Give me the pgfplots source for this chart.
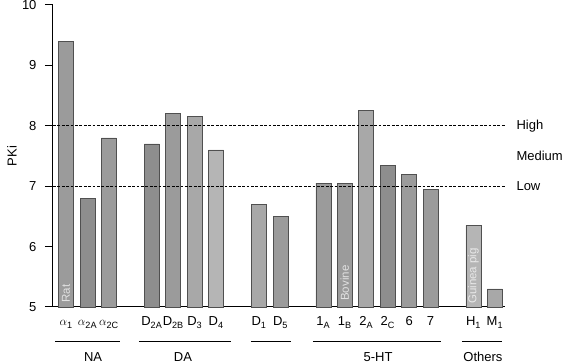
\documentclass[border=0pt]{standalone}
\usepackage{fontspec}
\setmainfont{Liberation Sans}
\usepackage{pgfplots}
\pgfplotsset{compat=1.18}
\definecolor{barA}{HTML}{8E8E8E}
\definecolor{barB}{HTML}{9B9B9B}
\definecolor{barC}{HTML}{A8A8A8}
\definecolor{barD}{HTML}{B5B5B5}
\definecolor{edge}{HTML}{505050}
\begin{document}
\begin{tikzpicture}
\useasboundingbox (-53pt,-56pt) rectangle (513pt,307pt);
\begin{axis}[
  at={(0,0)}, anchor=south west,
  scale only axis, width=452pt, height=302pt,
  xmin=-0.61, xmax=20.47, ymin=5, ymax=10,
  axis x line=bottom, axis y line=left,
  axis line style={-, line width=1pt},
  ytick={5,6,7,8,9,10},
  tick align=outside, major tick length=8pt,
  every tick/.style={line width=1pt, black},
  xtick={0,1,2,4,5,6,7,9,10,12,13,14,15,16,17,19,20},
  xticklabels={$\alpha$\textsubscript{1},$\alpha$\textsubscript{2A},$\alpha$\textsubscript{2C},
    D\textsubscript{2A},D\textsubscript{2B},D\textsubscript{3},D\textsubscript{4},
    D\textsubscript{1},D\textsubscript{5},
    1\textsubscript{A},1\textsubscript{B},2\textsubscript{A},2\textsubscript{C},6,7,
    H\textsubscript{1},M\textsubscript{1}},
  x tick style={draw=none},
  xticklabel style={anchor=base, yshift=-11pt},
  yticklabel style={xshift=-5pt},
  /pgf/number format/assume math mode=true,
  every axis y label/.style={at={(axis description cs:0,0.5)}, xshift=-41pt, rotate=90, anchor=center},
  ylabel={PKi},
  clip=false,
  font=\fontsize{13}{15}\selectfont,
  bar width=15pt,
]
\addplot[ybar, bar shift=0pt, fill=barA, draw=edge, line width=0.6pt] coordinates {(1,6.8) (4,7.7) (15,7.35)};
\addplot[ybar, bar shift=0pt, fill=barB, draw=edge, line width=0.6pt] coordinates {(0,9.4) (2,7.8) (5,8.2) (10,6.5) (12,7.05) (13,7.05) (16,7.2) (17,6.95)};
\addplot[ybar, bar shift=0pt, fill=barC, draw=edge, line width=0.6pt] coordinates {(6,8.15) (9,6.7) (14,8.25) (20,5.3)};
\addplot[ybar, bar shift=0pt, fill=barD, draw=edge, line width=0.6pt] coordinates {(7,7.6) (19,6.35)};
\addplot[black, line width=0.9pt, dash pattern=on 2.8pt off 1.6pt, forget plot] coordinates {(-0.61,8) (20.47,8)};
\addplot[black, line width=0.9pt, dash pattern=on 2.8pt off 1.6pt, forget plot] coordinates {(-0.61,7) (20.47,7)};
\node[anchor=west, xshift=8pt] at (axis cs:20.47,8) {High};
\node[anchor=west, xshift=8pt] at (axis cs:20.47,7.5) {Medium};
\node[anchor=west, xshift=8pt] at (axis cs:20.47,7) {Low};
\node[rotate=90, anchor=west, inner sep=0pt, text=white, opacity=0.7, font=\fontsize{11.5}{12}\selectfont] at (axis cs:0,5.07) {Rat};
\node[rotate=90, anchor=west, inner sep=0pt, text=white, opacity=0.7, font=\fontsize{11.5}{12}\selectfont] at (axis cs:13,5.1) {Bovine};
\node[rotate=90, anchor=west, inner sep=0pt, text=white, opacity=0.7, font=\fontsize{11.5}{12}\selectfont] at (axis cs:19,5.05) {Guinea pig};
\draw[line width=1pt] (axis cs:-0.51,4.425) -- (axis cs:2.52,4.425);
\draw[line width=1pt] (axis cs:3.40,4.425) -- (axis cs:7.69,4.425);
\draw[line width=1pt] (axis cs:8.62,4.425) -- (axis cs:10.49,4.425);
\draw[line width=1pt] (axis cs:11.51,4.425) -- (axis cs:17.48,4.425);
\draw[line width=1pt] (axis cs:18.46,4.425) -- (axis cs:20.33,4.425);
\node[inner sep=1pt] at (axis cs:1.26,4.175) {NA};
\node[inner sep=1pt] at (axis cs:5.45,4.175) {DA};
\node[inner sep=1pt] at (axis cs:14.55,4.175) {5-HT};
\node[inner sep=1pt] at (axis cs:19.44,4.175) {Others};
\end{axis}
\end{tikzpicture}
\end{document}
